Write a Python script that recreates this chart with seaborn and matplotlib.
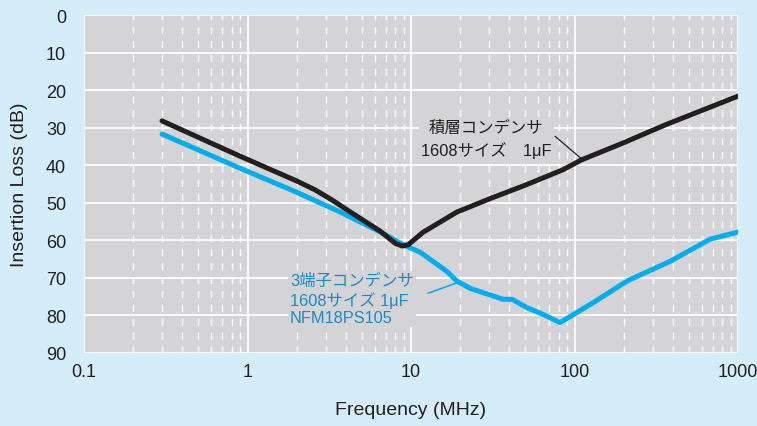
import matplotlib
matplotlib.use("Agg")
import matplotlib.pyplot as plt
from matplotlib.ticker import LogLocator, NullFormatter, FixedLocator
import pandas as pd
import seaborn as sns

# values (MHz, dB)
mlcc_freq = [0.3, 0.9, 2.0, 2.6, 3.3, 4.2, 6.5, 8.0, 8.8, 9.6, 11.8, 19, 30, 50, 85, 110, 200, 366, 1000]
mlcc_loss = [28.2, 37.6, 44.2, 46.6, 49.3, 52.3, 57.6, 60.8, 61.5, 61.2, 57.9, 52.5, 49.0, 45.3, 41.2, 38.6, 34.0, 29.1, 21.6]

nfm_freq = [0.3, 0.9, 2.0, 3.7, 6.5, 8.8, 11.4, 16.6, 19, 23, 36.5, 41.5, 51, 64, 81.5, 130, 210, 384, 674, 1000]
nfm_loss = [31.7, 40.8, 47.2, 52.5, 57.8, 61.0, 63.2, 68.3, 70.8, 72.8, 75.7, 75.7, 77.9, 79.7, 81.9, 76.6, 70.8, 65.6, 59.7, 57.8]

x_ticks = [0.1, 1, 10, 100, 1000]
x_labels = ["0.1", "1", "10", "100", "1000"]
y_ticks = [0, 10, 20, 30, 40, 50, 60, 70, 80, 90]

mlcc_label = "積層コンデンサ\n1608サイズ　1μF"
nfm_label = "3端子コンデンサ\n1608サイズ 1μF\nNFM18PS105"

BG = "#d4edf9"
PANEL = "#d4d4d6"
INK = "#231f20"
CYAN = "#00aeef"
CYAN_TXT = "#1b8bc3"

sns.set_theme(style="white", rc={"axes.facecolor": PANEL, "figure.facecolor": BG})
plt.rcParams["font.family"] = ["Liberation Sans", "Noto Sans CJK JP", "DejaVu Sans"]

df_mlcc = pd.DataFrame({"freq": mlcc_freq, "loss": mlcc_loss})
df_nfm = pd.DataFrame({"freq": nfm_freq, "loss": nfm_loss})

fig = plt.figure(figsize=(7.57, 4.27), dpi=100)
ax = fig.add_axes([0.111, 0.171, 0.864, 0.7915])

sns.lineplot(data=df_nfm, x="freq", y="loss", color=CYAN, lw=3.6, estimator=None,
             sort=False, ax=ax, zorder=4, solid_joinstyle="round")
sns.lineplot(data=df_mlcc, x="freq", y="loss", color=INK, lw=3.6, estimator=None,
             sort=False, ax=ax, zorder=5, solid_joinstyle="round")

ax.set_xscale("log")
ax.set_xlim(0.1, 1000)
ax.set_ylim(90, 0)
ax.xaxis.set_major_locator(FixedLocator(x_ticks))
ax.set_xticklabels(x_labels, fontsize=13, color=INK)
ax.xaxis.set_minor_locator(LogLocator(base=10, subs=range(2, 10)))
ax.xaxis.set_minor_formatter(NullFormatter())
ax.set_yticks(y_ticks)
ax.set_yticklabels([str(v) for v in y_ticks], fontsize=13, color=INK)
ax.tick_params(axis="both", which="both", length=0)
ax.tick_params(axis="x", pad=7)
ax.tick_params(axis="y", pad=13)

ax.grid(False)
ax.yaxis.grid(True, which="major", color="white", lw=1.3, ls="-")
ax.xaxis.grid(True, which="major", color="white", lw=1.3, ls="-")
ax.xaxis.grid(True, which="minor", color="white", lw=1.0, ls=(0, (5, 5)))
ax.set_axisbelow(True)
for s in ax.spines.values():
    s.set_visible(False)

ax.set_xlabel("Frequency (MHz)", fontsize=14, color=INK, labelpad=15)
ax.set_ylabel("Insertion Loss (dB)", fontsize=14, color=INK, labelpad=13)

box = dict(facecolor=PANEL, edgecolor="none", pad=1.5)
ax.text(28.8, 33.0, mlcc_label, ha="center", va="center", multialignment="center",
        fontsize=11.8, color=INK, linespacing=1.5, bbox=box, zorder=3)
ax.annotate("", xy=(111, 38.4), xytext=(76, 32.3),
            arrowprops=dict(arrowstyle="-", color=INK, lw=0.9, shrinkA=0, shrinkB=0), zorder=3)

ax.text(1.82, 75.7, nfm_label, ha="left", va="center", multialignment="left",
        fontsize=11.8, color=CYAN_TXT, linespacing=1.2, bbox=box, zorder=3)
ax.annotate("", xy=(19.4, 71.2), xytext=(12.7, 74.1),
            arrowprops=dict(arrowstyle="-", color=CYAN, lw=1.1, shrinkA=0, shrinkB=0), zorder=3)

fig.savefig("out.png", dpi=100, facecolor=BG)
